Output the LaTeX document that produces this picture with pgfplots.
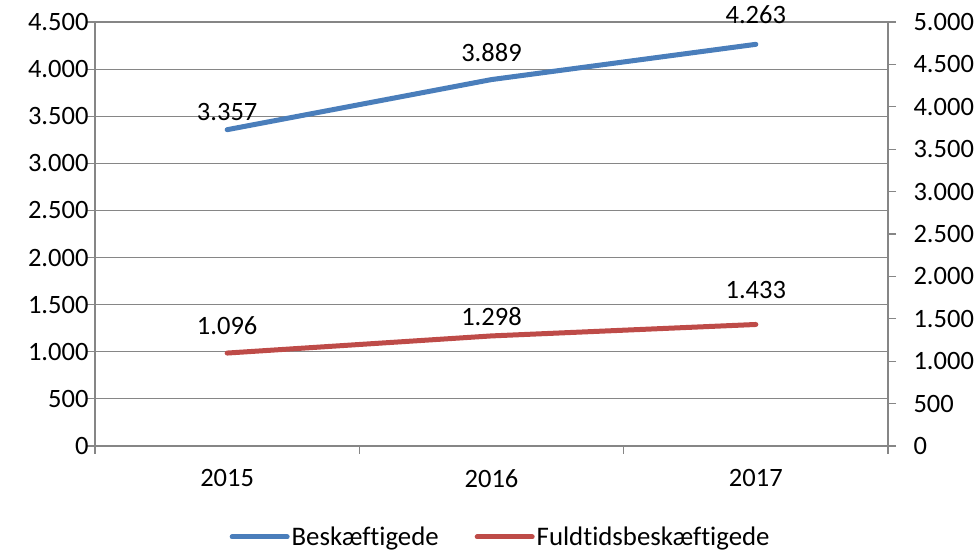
\documentclass[border=0pt]{standalone}
\usepackage{pgfplots}
\pgfplotsset{compat=1.18}
\usepackage{pgfplotstable}
\usepackage{fontspec}
\setmainfont[Ligatures={NoCommon}]{Carlito}
\definecolor{bl}{HTML}{4A7EBB}
\definecolor{rd}{HTML}{BE4B48}
\definecolor{gr}{HTML}{868686}
\pgfplotstableread{
x y dy
0 3357 18
1 3889 27
2 4263 30
}\blue
\pgfplotstableread{
x y dy
0 1096 27
1 1298 19
2 1433 34
}\red
\begin{document}
\begin{tikzpicture}[font=\fontsize{26.5}{30}\selectfont]
\useasboundingbox (0,0) rectangle (977pt,553pt);
\pgfplotsset{
  every axis/.append style={
    scale only axis, width=793pt, height=424pt,
    at={(95pt,107pt)}, anchor=south west,
    xmin=-0.5, xmax=2.5,
    /pgf/number format/assume math mode=true,
    /pgf/number format/1000 sep={.},
    tick align=outside,
    major tick length=8pt,
    every tick/.style={gr, line width=1.2pt},
    axis line style={gr, line width=1.2pt},
    tick label style={font=\fontsize{26.5}{30}\selectfont},
  }
}
\begin{axis}[
  axis x line*=bottom, axis y line*=left,
  ymin=0, ymax=4500, ytick distance=500,
  ymajorgrids, grid style={gr, line width=1.2pt},
  xtick={0,1,2}, xticklabels={2015,2016,2017},
  xtick style={draw=none},
  extra x ticks={-0.5,0.5,1.5,2.5}, extra x tick labels={},
  extra x tick style={grid=none, xtick style={draw=gr}},
  xticklabel style={yshift=-12pt},
  yticklabel style={xshift=5pt},
  legend style={at={(0.5115,-0.2146)}, anchor=center, draw=none, fill=none,
    legend columns=2, font=\fontsize{26.8}{30}\selectfont,
    /tikz/every even column/.append style={column sep=34pt}},
  legend image code/.code={\draw[#1, line cap=round] (0pt,0pt) -- (55pt,0pt);},
  nodes near coords, point meta=explicit,
  visualization depends on={\thisrow{dy} \as \dy},
  every node near coord/.append style={anchor=center, yshift=\dy pt, text=black,
    font=\fontsize{26.5}{30}\selectfont,
    /pgf/number format/assume math mode=true, /pgf/number format/1000 sep={.}},
]
\addplot[bl, line width=5pt, line cap=round] table[x=x, y=y, meta=y] {\blue};
\addlegendentry{Beskæftigede}
\addlegendimage{rd, line width=5pt}
\addlegendentry{Fuldtidsbeskæftigede}
\end{axis}
\begin{axis}[
  axis x line=none, axis y line*=right,
  ymin=0, ymax=5000, ytick distance=500,
  yticklabel style={xshift=14pt},
  nodes near coords, point meta=explicit,
  visualization depends on={\thisrow{dy} \as \dy},
  every node near coord/.append style={anchor=center, yshift=\dy pt, text=black,
    font=\fontsize{26.5}{30}\selectfont,
    /pgf/number format/assume math mode=true, /pgf/number format/1000 sep={.}},
]
\addplot[rd, line width=5pt, line cap=round] table[x=x, y=y, meta=y] {\red};
\end{axis}
\end{tikzpicture}
\end{document}
